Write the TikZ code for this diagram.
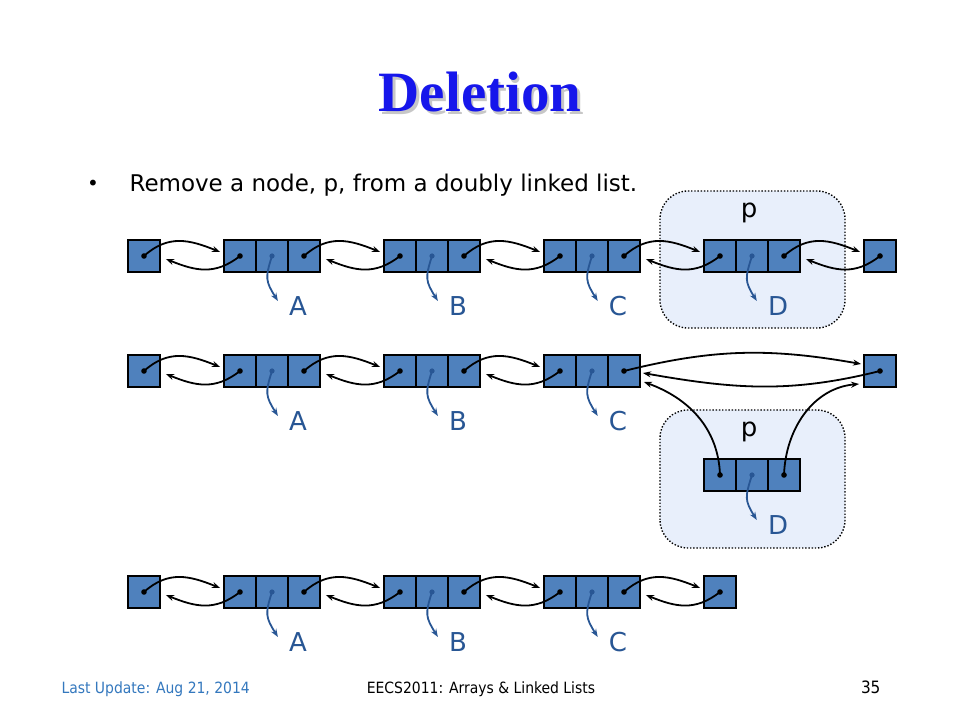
\documentclass[tikz,border=0pt]{standalone}
\usepackage{fontspec}
\setmainfont{DejaVu Sans}
\newfontfamily\titlefont{Liberation Serif}
\newfontfamily\footfont{DejaVu Sans Condensed}
\usetikzlibrary{arrows.meta,positioning}
\definecolor{cellblue}{RGB}{79,129,189}
\definecolor{lblblue}{RGB}{40,86,148}
\definecolor{boxblue}{RGB}{232,239,251}
\definecolor{titleblue}{RGB}{22,22,235}
\definecolor{footblue}{RGB}{52,120,190}
\tikzset{
  cell/.style={draw=black,line width=1.9pt,fill=cellblue,minimum size=32pt,inner sep=0pt},
  link/.style={line width=1.8pt,-{Stealth[length=8pt,width=6pt]}},
  ptr/.style={draw=lblblue,line width=1.8pt,-{Stealth[length=8pt,width=6pt]}},
  lbl/.style={font=\fontsize{26}{26}\selectfont,text=lblblue,inner sep=0pt},
  pbox/.style={draw=black,fill=boxblue,line width=1.4pt,dash pattern=on 1.4pt off 1.8pt,rounded corners=28pt},
  titletext/.style={font=\titlefont\bfseries\fontsize{57}{57}\selectfont,anchor=base}
}
\begin{document}
\begin{tikzpicture}[x=1pt,y=1pt]
\useasboundingbox[fill=white] (0,0) rectangle (960,720);
% title and bullet
\node[titletext,text=black!22] at (482.5,605.5) {Deletion};
\node (title) [titletext,text=titleblue] at (480,608) {Deletion};
\node (bul) [anchor=base,font=\fontsize{20}{20}\selectfont] at (93,529) {•};
\node (intro) [anchor=base west,font=\fontsize{23}{24}\selectfont] at (126,528) {Remove a node, p, from a doubly linked list.};
% boxes round p
\draw[pbox] (660,392) rectangle (845,529);
\draw[pbox] (660,172) rectangle (845,310);
\node (p1) [lbl,text=black] at (749,507) {p};
\node (p2) [lbl,text=black] at (749,288) {p};
% cells
\foreach \row/\y in {1/464,2/349,3/128}{
  \node[cell] (H\row n) at (144,\y) {};
  \fill (H\row n.center) circle (2.8pt);
}
\node[cell] (T1p) at (880,464) {};
\node[cell] (T2p) at (880,349) {};
\node[cell] (T3p) at (720,128) {};
\foreach \t in {T1p,T2p,T3p} \fill (\t.center) circle (2.8pt);
\foreach \nm/\row/\x/\y in {A/1/240/464,B/1/400/464,C/1/560/464,D/1/720/464,
                            A/2/240/349,B/2/400/349,C/2/560/349,D/2/720/245,
                            A/3/240/128,B/3/400/128,C/3/560/128}{
  \node[cell] (\nm\row p) at (\x,\y) {};
  \node[cell] (\nm\row e) at (\x+32,\y) {};
  \node[cell] (\nm\row n) at (\x+64,\y) {};
  \fill (\nm\row p.center) circle (2.8pt);
  \fill (\nm\row n.center) circle (2.8pt);
  \fill[lblblue] (\nm\row e.center) circle (2.6pt);
  \node (l\nm\row) [lbl] at (\x+58,\y-50) {\nm};
  \draw[ptr] (\nm\row e.center) to[out=-108,in=122,looseness=1.3] ([xshift=-11pt,yshift=5pt]l\nm\row.west);
}
% next and prev links
\foreach \u/\v in {H1/A1,A1/B1,B1/C1,C1/D1,D1/T1,H2/A2,A2/B2,B2/C2,H3/A3,A3/B3,B3/C3,C3/T3}{
  \draw[link] (\u n.center) to[out=42,in=158,looseness=1.1] ([xshift=-3pt,yshift=4pt]\v p.west);
  \draw[link] (\v p.center) to[out=218,in=-22,looseness=1.1] ([xshift=5pt,yshift=-3pt]\u n.east);
}
% links that skip p
\draw[link] (C2n.center) to[out=14,in=170] ([xshift=-2pt,yshift=7pt]T2p.west);
\draw[link] (T2p.center) to[out=194,in=-10] ([xshift=2pt,yshift=-2pt]C2n.east);
\draw[link] (D2p.center) to[out=92,in=-20] ([xshift=3pt,yshift=-11pt]C2n.east);
\draw[link] (D2n.center) to[out=88,in=185] ([xshift=-4pt,yshift=-13pt]T2p.west);
% footer
\node (upd) [anchor=base west,text=footblue,font=\footfont\fontsize{15.5}{15}\selectfont] at (58,27) {Last Update: Aug 21, 2014};
\node (course) [anchor=base,font=\footfont\fontsize{15.5}{15}\selectfont] at (481,27) {EECS2011: Arrays \& Linked Lists};
\node (page) [anchor=base east,font=\footfont\fontsize{17}{17}\selectfont] at (884,27) {35};
\end{tikzpicture}
\end{document}
